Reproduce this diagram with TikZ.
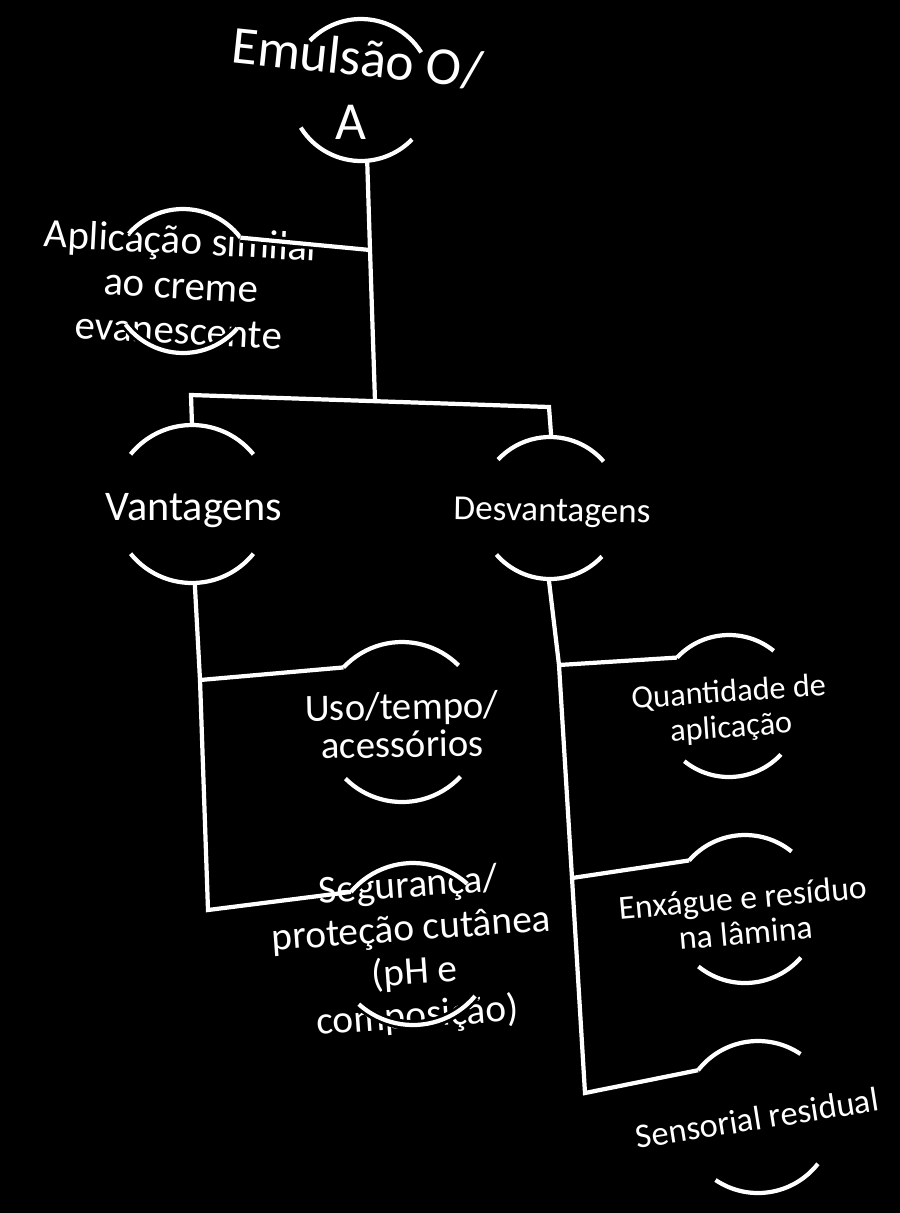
\documentclass[tikz,border=0pt]{standalone}
\usepackage{fontspec}
\setmainfont{Carlito}
\tikzset{
  anel/.style={circle, inner sep=0pt, outer sep=0pt, minimum size=#1*0.05cm},
  arco/.style={line width=3pt, white, preaction={draw=black, line width=7pt}},
  liga/.style={line width=3pt, white, line join=miter},
  rotulo/.style={text=white, align=center, inner sep=0pt},
}
\begin{document}
\begin{tikzpicture}[x=0.025cm, y=0.025cm]
  % fundo preto
  \fill[black] (0,0) rectangle (900,-1213);

  % 1. aneis (centro de cada conceito)
  \node[anel=71] (emul)  at (361,-90)   {};
  \node[anel=72] (aplic) at (183,-281)  {};
  \node[anel=79] (vant)  at (192,-504)  {};
  \node[anel=71] (desv)  at (550,-508)  {};
  \node[anel=80] (uso)   at (402,-722)  {};
  \node[anel=81] (seg)   at (413,-944)  {};
  \node[anel=71] (quant) at (729,-706)  {};
  \node[anel=74] (enx)   at (745,-909)  {};
  \node[anel=76] (sens)  at (758,-1117) {};

  % 2. textos
  \node[rotulo, rotate=-6, font=\fontsize{38}{46}\selectfont] (emul-txt) at (354,-90) {Emulsão O/\\\rotatebox[origin=c]{6}{A}};
  \node[rotulo, rotate=-3, font=\fontsize{29}{32}\selectfont] (aplic-txt) at (181,-285) {Aplicação similar\\ao creme\\evanescente};
  \node[rotulo, font=\fontsize{30}{36}\selectfont] (vant-txt) at (194,-511) {Vantagens};
  \node[rotulo, rotate=-1, font=\fontsize{25}{30}\selectfont] (desv-txt) at (552,-513) {Desvantagens};
  \node[rotulo, rotate=1, font=\fontsize{27.5}{27}\selectfont] (uso-txt) at (402,-725) {Uso/tempo/\\acessórios};
  \node[rotulo, rotate=4, font=\fontsize{28}{31}\selectfont] (seg-txt) at (413,-952) {Segurança/\\proteção cutânea\\(pH e\\composição)};
  \node[rotulo, rotate=4, font=\fontsize{23}{25}\selectfont] (quant-txt) at (730,-711) {Quantidade de\\aplicação};
  \node[rotulo, rotate=5, font=\fontsize{24}{25}\selectfont] (enx-txt) at (744,-915) {Enxágue e resíduo\\na lâmina};
  \node[rotulo, rotate=9, font=\fontsize{24.5}{29}\selectfont] (sens-txt) at (757,-1118) {Sensorial residual};

  % 3. arcos de cima e de baixo
  \foreach \no/\raio/\ang/\rot in {emul/71/38/-6, aplic/72/39/-2, vant/79/39/0,
      desv/71/42/-1, uso/80/44/1, seg/81/44/4, quant/71/47/4, enx/74/46/5, sens/76/47/9}{
    \draw[arco] (\no) ++(\ang+\rot:\raio) arc[start angle=\ang+\rot, end angle=180-\ang+\rot, radius=\raio];
    \draw[arco] (\no) ++(180+\ang+\rot:\raio) arc[start angle=180+\ang+\rot, end angle=360-\ang+\rot, radius=\raio];
  }

  % 4. pontos de juncao
  \coordinate (j1) at (370,-250);
  \coordinate (j2) at (375,-401);
  \coordinate (bl) at (191,-395);
  \coordinate (br) at (549,-407);
  \coordinate (j3) at (200,-680);
  \coordinate (lb) at (208,-910);
  \coordinate (j4) at (559,-665);
  \coordinate (j5) at (572,-878);
  \coordinate (rb) at (585,-1093);

  % 5. ligacoes
  \draw[liga, preaction={draw=black, line width=7pt}] (j1) -- (aplic.37);
  \draw[liga] (emul.275) -- (j1) -- (j2);
  \draw[liga] (vant.north) -- (bl) -- (br) -- (desv.89);
  \draw[liga] (vant.272) -- (j3) -- (lb) -- (seg.140);
  \draw[liga] (j3) -- (uso.137);
  \draw[liga] (desv.269) -- (j4) -- (j5) -- (rb) -- (sens.142);
  \draw[liga] (j4) -- (quant.137);
  \draw[liga] (j5) -- (enx.139);
\end{tikzpicture}
\end{document}
